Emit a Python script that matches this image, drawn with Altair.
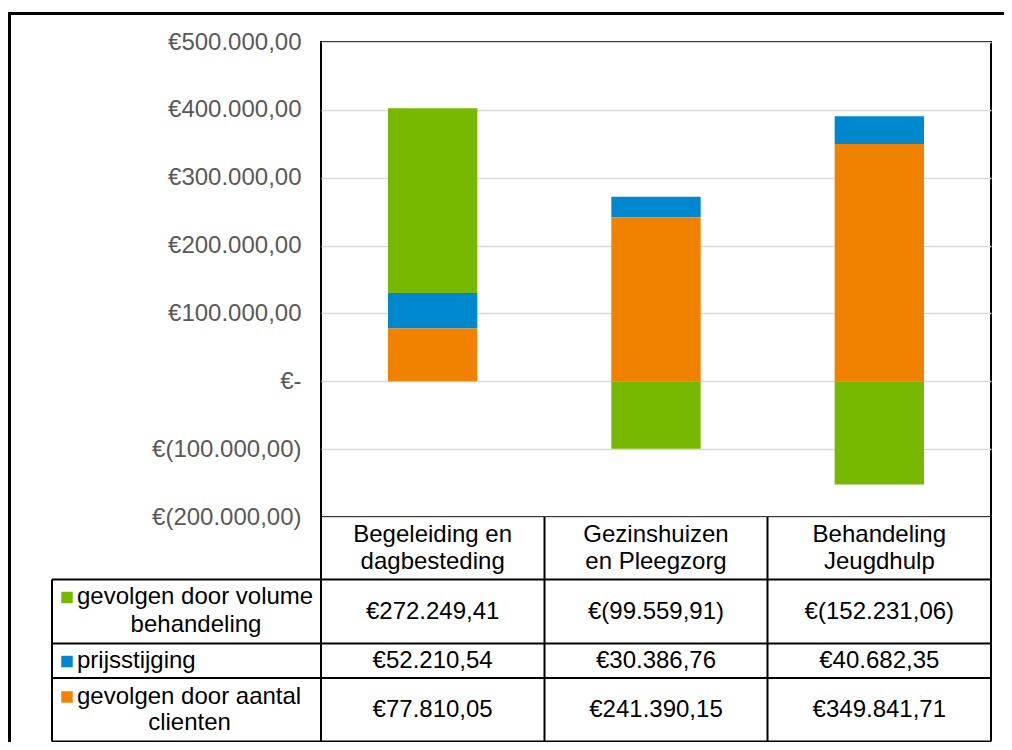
import altair as alt
import pandas as pd

# ---------------- data ----------------
categories = ["Begeleiding en dagbesteding", "Gezinshuizen en Pleegzorg", "Behandeling Jeugdhulp"]
category_labels = ["Begeleiding en\ndagbesteding", "Gezinshuizen\nen Pleegzorg", "Behandeling\nJeugdhulp"]
series_names = ["gevolgen door volume behandeling", "prijsstijging", "gevolgen door aantal clienten"]
series_label_lines = [["gevolgen door volume", "behandeling"], ["prijsstijging"], ["gevolgen door aantal", "clienten"]]
volume_values = [272249.41, -99559.91, -152231.06]
prijs_values = [52210.54, 30386.76, 40682.35]
aantal_values = [77810.05, 241390.15, 349841.71]
series_colors = ["#77B900", "#0088CE", "#F08200"]
stack_order = [2, 1, 0]
y_ticks = [-200000, -100000, 0, 100000, 200000, 300000, 400000, 500000]
NB = "\u00a0"
y_tick_labels = ["€(200.000,00)", "€(100.000,00)", "€-" + NB * 3, "€100.000,00" + NB,
                 "€200.000,00" + NB, "€300.000,00" + NB, "€400.000,00" + NB, "€500.000,00" + NB]


def eur(v):
    s = f"{abs(v):,.2f}".replace(",", "#").replace(".", ",").replace("#", ".")
    return f"€({s})" if v < 0 else f"€{s}"


rows = []
for s_i, (name, vals) in enumerate(zip(series_names, [volume_values, prijs_values, aantal_values])):
    for c_i, cat in enumerate(categories):
        rows.append({"category": cat, "header": category_labels[c_i], "series": name,
                     "value": vals[c_i], "text": eur(vals[c_i]), "order": stack_order[s_i]})
df = pd.DataFrame(rows)

# ---------------- layout (pixels, relative to plot origin) ----------------
W, H = 670, 475
FONT = "Liberation Sans"
FS = 24
one = pd.DataFrame({"k": [0]})

xscale = alt.Scale(domain=categories, paddingInner=0, paddingOuter=0)
cscale = alt.Scale(domain=series_names, range=series_colors)

bars = alt.Chart(df).mark_bar(width={"band": 0.4}).encode(
    x=alt.X("category:N", scale=xscale, axis=None, sort=categories),
    y=alt.Y("value:Q", stack="zero",
            scale=alt.Scale(domain=[-200000, 500000], nice=False, zero=False),
            axis=alt.Axis(values=y_ticks, title=None, grid=True, gridColor="#D9D9D9", gridWidth=1.5,
                          domain=False, ticks=False, tickSize=0, labelPadding=20,
                          labelFont=FONT, labelFontSize=FS, labelColor="#595959",
                          labelExpr=" : ".join(
                              [f"datum.value == {v} ? '{l}'" for v, l in zip(y_ticks, y_tick_labels)]
                          ) + " : ''")),
    color=alt.Color("series:N", scale=cscale, legend=None),
    order=alt.Order("order:Q", sort="ascending"),
)

layers = [bars]

# header row with category names
layers.append(alt.Chart(df[df["series"] == series_names[0]]).mark_text(
    font=FONT, fontSize=FS, color="black", lineBreak="\n", lineHeight=26.5, baseline="middle", align="center"
).encode(x=alt.X("category:N", scale=xscale, sort=categories), y=alt.value(493), text="header:N"))

# value rows
value_row_y = [569.5, 619, 668]
for name, yv in zip(series_names, value_row_y):
    layers.append(alt.Chart(df[df["series"] == name]).mark_text(
        font=FONT, fontSize=FS, color="black", baseline="middle", align="center"
    ).encode(x=alt.X("category:N", scale=xscale, sort=categories), y=alt.value(yv), text="text:N"))

# legend column
key_y = [555, 619, 654.5]
line2_y = [583, None, 681]
line2_x = [-125, None, -131.5]
for i, name in enumerate(series_names):
    lines = series_label_lines[i]
    ldf = pd.DataFrame({"series": [name], "l1": [lines[0]], "l2": [lines[1] if len(lines) > 1 else ""]})
    layers.append(alt.Chart(ldf).mark_square(size=132, opacity=1).encode(
        x=alt.value(-254), y=alt.value(key_y[i] + 0.5),
        color=alt.Color("series:N", scale=cscale, legend=None)))
    layers.append(alt.Chart(ldf).mark_text(font=FONT, fontSize=FS, color="black", align="left",
                                           baseline="middle").encode(
        x=alt.value(-244), y=alt.value(key_y[i]), text="l1:N"))
    if len(lines) > 1:
        layers.append(alt.Chart(ldf).mark_text(font=FONT, fontSize=FS, color="black", align="center",
                                               baseline="middle").encode(
            x=alt.value(line2_x[i]), y=alt.value(line2_y[i]), text="l2:N"))

# table grid lines
for yv in [537.5, 601.5, 636, 699.5]:
    layers.append(alt.Chart(one).mark_rule(color="black", strokeWidth=2).encode(
        x=alt.value(-269), x2=alt.value(W), y=alt.value(yv)))
for xv, y0 in [(-269, 537.5), (0, 475), (223.5, 475), (446.5, 475), (W, 475)]:
    layers.append(alt.Chart(one).mark_rule(color="black", strokeWidth=2).encode(
        x=alt.value(xv), y=alt.value(y0), y2=alt.value(699.5)))

# outer frame
layers.append(alt.Chart(one).mark_rule(color="black", strokeWidth=3).encode(
    x=alt.value(-313), x2=alt.value(690), y=alt.value(-28.5)))
layers.append(alt.Chart(one).mark_rule(color="black", strokeWidth=3).encode(
    x=alt.value(-311.5), y=alt.value(-30), y2=alt.value(710)))

chart = alt.layer(*layers).properties(
    width=W, height=H,
    autosize=alt.AutoSizeParams(type="none"),
    padding={"left": 313, "top": 34, "right": 13, "bottom": 225},
    background="white",
).configure_view(stroke="black", strokeWidth=2)

chart.save("out.html", embed_options={"renderer": "svg", "actions": False})
